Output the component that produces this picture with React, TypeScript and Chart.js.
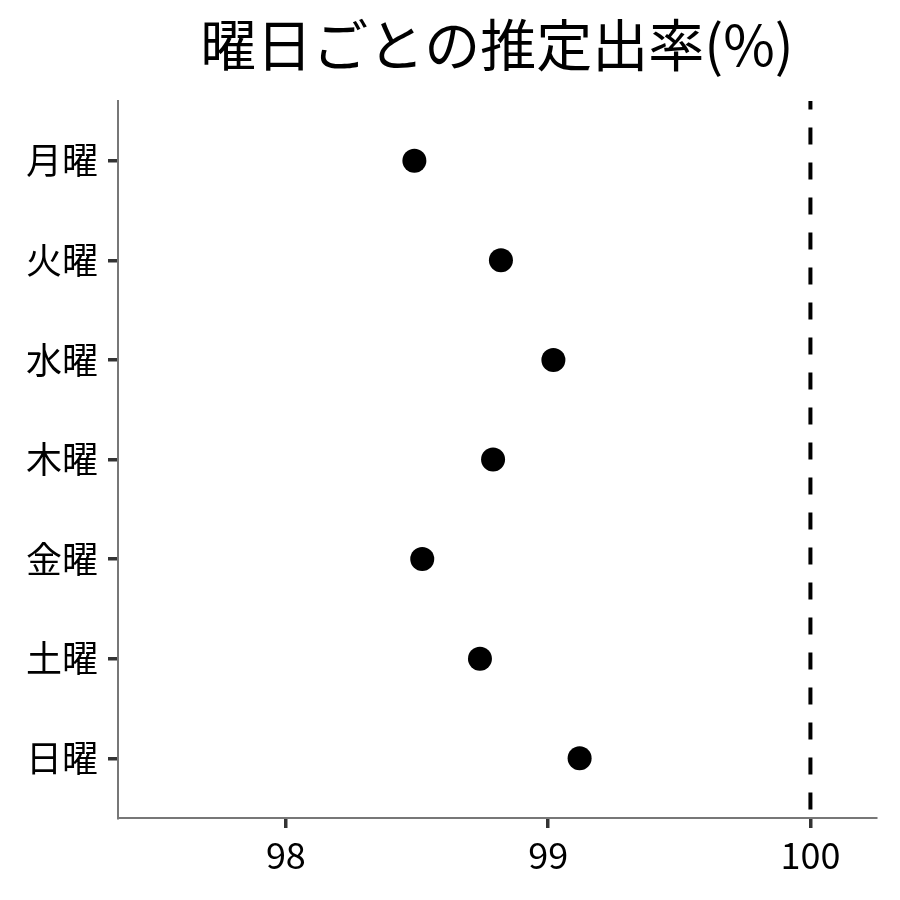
import React, { useEffect, useRef } from "react";
import { Chart, registerables } from "chart.js";

Chart.register(...registerables);

const days = ["月曜", "火曜", "水曜", "木曜", "金曜", "土曜", "日曜"];
const rates = [98.49, 98.82, 99.02, 98.79, 98.52, 98.74, 99.12];
const xTicks = [98, 99, 100];
const refLine = 100;
const titleText = "曜日ごとの推定出率(%)";

const FONT = '"Noto Sans CJK JP", "Noto Sans", sans-serif';

// title centred over the plot panel, not the whole canvas
const panelTitle = {
  id: "panelTitle",
  afterDraw(chart: any) {
    const { ctx, chartArea } = chart;
    ctx.save();
    ctx.font = `56px ${FONT}`;
    ctx.fillStyle = "#000";
    ctx.textAlign = "center";
    ctx.textBaseline = "middle";
    ctx.fillText(titleText, (chartArea.left + chartArea.right) / 2, 45);
    ctx.restore();
  },
};

const App = () => {
  const canvasRef = useRef<HTMLCanvasElement>(null);

  useEffect(() => {
    document.body.style.margin = "0";
    if (!canvasRef.current) return;

    const yMin = -0.6;
    const yMax = days.length - 1 + 0.6;

    const chart = new Chart(canvasRef.current, {
      type: "scatter",
      data: {
        datasets: [
          {
            data: rates.map((v, i) => ({ x: v, y: i })),
            backgroundColor: "#000",
            borderColor: "#000",
            borderWidth: 0,
            pointRadius: 12,
            pointHoverRadius: 12,
          },
          {
            type: "line",
            data: [
              { x: refLine, y: yMin },
              { x: refLine, y: yMax },
            ],
            showLine: true,
            borderColor: "#000",
            borderWidth: 4,
            borderDash: [17, 18],
            borderDashOffset: 8.5,
            pointRadius: 0,
            fill: false,
          } as any,
        ],
      },
      options: {
        responsive: false,
        animation: false,
        layout: { padding: { top: 101, right: 24, left: 0, bottom: 0 } },
        plugins: {
          legend: { display: false },
          title: { display: false },
          tooltip: { enabled: false },
        },
        scales: {
          x: {
            type: "linear",
            min: 97.36,
            max: 100.25,
            afterBuildTicks: (axis: any) => {
              axis.ticks = xTicks.map((v) => ({ value: v }));
            },
            afterFit: (axis: any) => {
              axis.height = 82;
            },
            ticks: {
              font: { family: FONT, size: 36 },
              color: "#000",
              padding: 6,
              maxRotation: 0,
            },
            grid: {
              drawOnChartArea: false,
              drawTicks: true,
              tickLength: 10,
              color: "#333",
              lineWidth: 3.5,
            },
            border: { display: true, color: "#777", width: 2 },
          },
          y: {
            type: "linear",
            reverse: true,
            min: yMin,
            max: yMax,
            afterBuildTicks: (axis: any) => {
              axis.ticks = days.map((_, i) => ({ value: i }));
            },
            afterFit: (axis: any) => {
              axis.width = 118;
            },
            ticks: {
              font: { family: FONT, size: 36 },
              color: "#000",
              padding: 10,
              callback: (v: any) => days[v as number] ?? "",
            },
            grid: {
              drawOnChartArea: false,
              drawTicks: true,
              tickLength: 10,
              color: "#333",
              lineWidth: 3.5,
            },
            border: { display: true, color: "#777", width: 2 },
          },
        },
      },
      plugins: [panelTitle],
    });

    return () => {
      chart.destroy();
    };
  }, []);

  return (
    <div style={{ width: "900px", height: "900px", background: "#fff" }}>
      <canvas ref={canvasRef} width="900" height="900"></canvas>
    </div>
  );
};

export default App;
